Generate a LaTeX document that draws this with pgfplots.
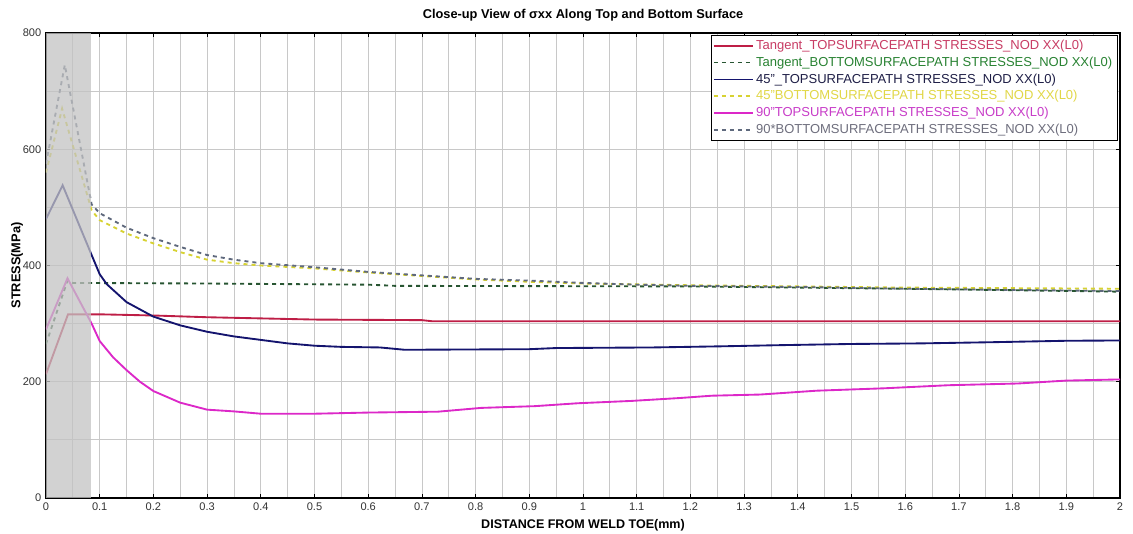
\documentclass[border=0pt]{standalone}
\usepackage{fontspec}
\setmainfont{Liberation Sans}
\usepackage{pgfplots}
\pgfplotsset{compat=1.18}
\definecolor{tantop}{RGB}{190,30,70}
\definecolor{tanbot}{RGB}{40,85,50}
\definecolor{ftop}{RGB}{20,20,110}
\definecolor{fbot}{RGB}{215,210,50}
\definecolor{ntop}{RGB}{220,40,200}
\definecolor{nbot}{RGB}{95,105,125}
\definecolor{tA}{RGB}{200,60,100}
\definecolor{tB}{RGB}{40,130,50}
\definecolor{tC}{RGB}{30,30,70}
\definecolor{tD}{RGB}{225,215,70}
\definecolor{tE}{RGB}{200,60,200}
\definecolor{tF}{RGB}{110,110,125}
\definecolor{band}{RGB}{195,195,195}
\definecolor{gridc}{RGB}{200,200,200}
\begin{document}
\begin{tikzpicture}
\begin{axis}[
  scale only axis, width=805.5pt, height=348.75pt,
  xmin=0, xmax=2, ymin=0, ymax=800,
  xtick={0,0.1,0.2,0.3,0.4,0.5,0.6,0.7,0.8,0.9,1,1.1,1.2,1.3,1.4,1.5,1.6,1.7,1.8,1.9,2},
  xticklabels={0,0.1,0.2,0.3,0.4,0.5,0.6,0.7,0.8,0.9,1,1.1,1.2,1.3,1.4,1.5,1.6,1.7,1.8,1.9,2},
  minor xtick={0.05,0.15,0.25,0.35,0.45,0.55,0.65,0.75,0.85,0.95,1.05,1.15,1.25,1.35,1.45,1.55,1.65,1.75,1.85,1.95},
  ytick={0,200,400,600,800},
  yticklabels={0,200,400,600,800},
  minor ytick={100,300,500,700},
  grid=both,
  major grid style={draw=gridc, line width=0.6pt},
  minor grid style={draw=gridc, line width=0.6pt},
  tick align=inside,
  major tick length=3pt, minor tick length=0pt,
  tick style={black, line width=0.6pt},
  axis line style={black, line width=0.8pt},
  tick label style={font=\fontsize{8.3}{10}\selectfont, text=black!80},
  xlabel={DISTANCE FROM WELD TOE(mm)},
  ylabel={STRESS(MPa)},
  xlabel style={font=\bfseries\fontsize{9.4}{11}\selectfont},
  ylabel style={font=\bfseries\fontsize{9.6}{11}\selectfont},
  ylabel shift=-7pt,
  title={Close-up View of σxx Along Top and Bottom Surface},
  title style={font=\bfseries\fontsize{9.6}{11}\selectfont, yshift=-1pt},
  legend cell align=left,
  legend style={at={(0.9975,0.9955)}, anchor=north east, draw=black, line width=0.6pt,
    font=\fontsize{9.75}{12}\selectfont, inner sep=1.5pt, row sep=0pt, fill=white},
  legend image code/.code={\draw[#1, line width=1.3pt] (0pt,0pt) -- (29pt,0pt);},
]
\addplot[tantop, line width=1.4pt] coordinates {
(0,213) (0.041,316) (0.1,316) (0.2,314) (0.3,311) (0.5,307) (0.7,306) (0.72,304) (2,304)};
\addlegendentry{\textcolor{tA}{Tangent\_TOPSURFACEPATH STRESSES\_NOD XX(L0)}}
\addplot[tanbot, line width=1.4pt, dashed] coordinates {
(0,265) (0.04,374) (0.05,370) (0.3,369) (0.6,367) (0.65,365) (1.2,364) (1.6,360) (2,355)};
\addlegendentry{\textcolor{tB}{Tangent\_BOTTOMSURFACEPATH STRESSES\_NOD XX(L0)}}
\addplot[ftop, line width=1.4pt] coordinates {
(0,480) (0.031,538) (0.085,418) (0.1,385) (0.113,368) (0.15,337) (0.2,312) (0.25,297) (0.3,286) (0.35,278) (0.4,272) (0.45,266) (0.5,262) (0.55,260) (0.622,259) (0.668,255) (0.9,256) (0.95,258) (1.13,259) (1.26,261) (1.37,263) (1.5,265) (1.63,266) (1.76,268) (1.9,270.5) (2,271)};
\addlegendentry{\textcolor{tC}{45"\_TOPSURFACEPATH STRESSES\_NOD XX(L0)}}
\addplot[fbot, line width=1.4pt, dashed] coordinates {
(0,560) (0.03,670) (0.085,495) (0.1,478) (0.15,455) (0.2,438) (0.25,423) (0.3,410) (0.35,404) (0.4,400) (0.5,395) (0.6,388) (0.7,382) (0.8,376) (0.9,372) (1.0,369) (1.2,366) (1.4,364) (1.6,362) (1.8,361) (2,360)};
\addlegendentry{\textcolor{tD}{45"BOTTOMSURFACEPATH STRESSES\_NOD XX(L0)}}
\addplot[ntop, line width=1.4pt] coordinates {
(0,290) (0.04,378) (0.085,300) (0.1,270) (0.125,242) (0.15,220) (0.175,200) (0.2,184) (0.25,164) (0.3,152) (0.35,149) (0.4,145) (0.5,145) (0.6,147) (0.73,148.5) (0.81,155) (0.91,158) (0.99,163) (1.09,167) (1.18,172) (1.24,176) (1.33,178) (1.435,184.6) (1.56,188.7) (1.68,194) (1.81,197) (1.9,202) (2,204)};
\addlegendentry{\textcolor{tE}{90"TOPSURFACEPATH STRESSES\_NOD XX(L0)}}
\addplot[nbot, line width=1.4pt, dashed] coordinates {
(0,575) (0.035,745) (0.085,505) (0.1,490) (0.15,465) (0.2,447) (0.25,432) (0.3,418) (0.35,410) (0.4,404) (0.5,397) (0.6,389) (0.7,383) (0.8,377) (0.9,374) (1.0,370) (1.1,367) (1.2,365) (1.4,363) (1.6,360) (1.8,358) (2,356)};
\addlegendentry{\textcolor{tF}{90*BOTTOMSURFACEPATH STRESSES\_NOD XX(L0)}}
\addplot[draw=none, fill=band, fill opacity=0.75, forget plot] coordinates {(0,800) (0.083,800)} \closedcycle;
\end{axis}
\pgfresetboundingbox
\path ([shift={(-34.5pt,-27pt)}]current axis.south west) rectangle ([shift={(9.75pt,24.75pt)}]current axis.north east);
\end{tikzpicture}
\end{document}
